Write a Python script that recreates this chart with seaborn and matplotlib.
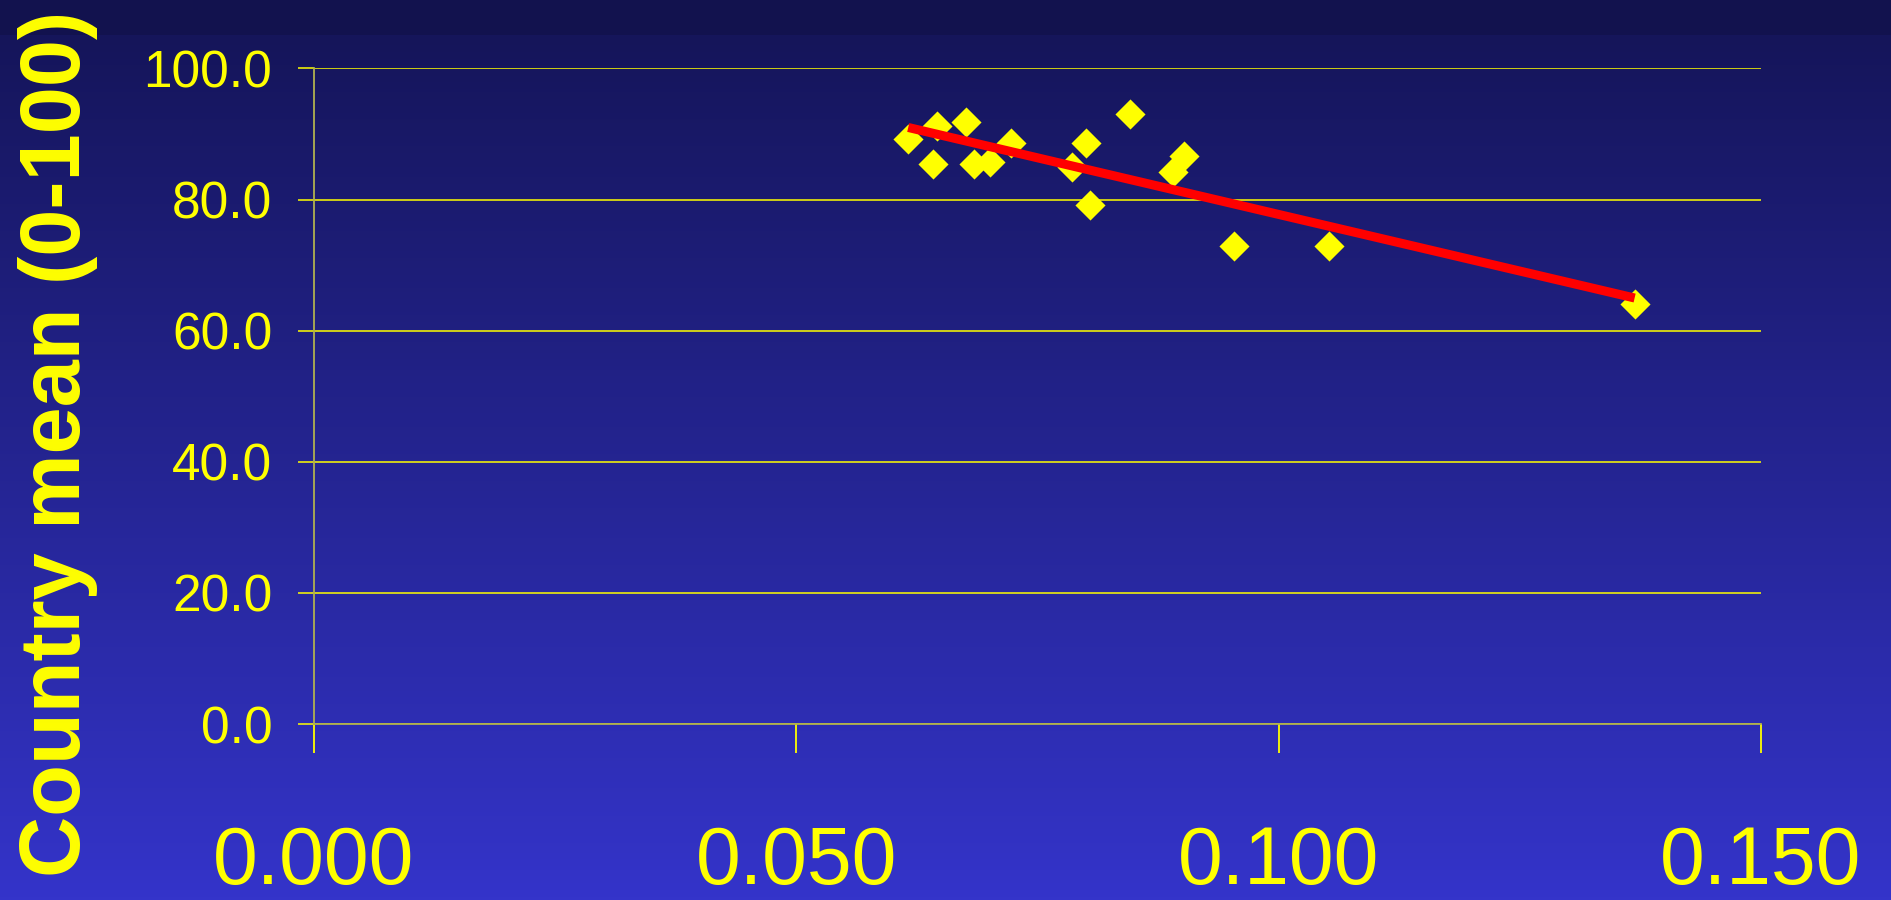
import numpy as np
import pandas as pd
import matplotlib
matplotlib.use("Agg")
import matplotlib.pyplot as plt
from matplotlib.ticker import FormatStrFormatter
from matplotlib.colors import LinearSegmentedColormap
import seaborn as sns

"""Data read off the slide"""
x_vals = [0.0616, 0.0646, 0.0642, 0.0676, 0.0684, 0.0701, 0.0723, 0.0800,
          0.0786, 0.0804, 0.0846, 0.0902, 0.0890, 0.0954, 0.1052, 0.1369]
y_vals = [89.2, 91.2, 85.5, 91.8, 85.5, 85.7, 88.7, 88.7,
          84.9, 79.2, 93.1, 86.7, 84.2, 72.9, 72.9, 64.1]
x_ticks = [0.000, 0.050, 0.100, 0.150]
y_ticks = [0, 20, 40, 60, 80, 100]
y_title = "Country mean (0-100)"

df = pd.DataFrame({"x": x_vals, "y": y_vals})

YEL = "#FFFF00"
plt.rcParams["font.family"] = ["Liberation Sans", "DejaVu Sans"]

fig = plt.figure(figsize=(18.91, 9.0), dpi=100)

"""Slide background: dark navy band on top, then a vertical gradient"""
bg = fig.add_axes([0, 0, 1, 1], zorder=-10)
bg.set_axis_off()
grad = np.linspace(0, 1, 256).reshape(-1, 1)
cmap = LinearSegmentedColormap.from_list("slide", ["#15155A", "#3434CA"])
bg.imshow(grad, aspect="auto", cmap=cmap, extent=[0, 1, 0, 1 - 35 / 900], origin="upper")
bg.axhspan(1 - 35 / 900, 1, color="#12124E", lw=0)
bg.set_xlim(0, 1)
bg.set_ylim(0, 1)

ax = fig.add_axes([314 / 1891, 1 - 724 / 900, (1761 - 314) / 1891, (724 - 68.5) / 900])
ax.patch.set_alpha(0)

sns.regplot(data=df, x="x", y="y", ci=None, ax=ax, marker="D",
            scatter_kws={"s": 235, "color": YEL, "linewidths": 0, "alpha": 1, "zorder": 3},
            line_kws={"color": "#FF0000", "lw": 6.5, "solid_capstyle": "butt", "zorder": 4})

ax.set_xlim(0, 0.15)
ax.set_ylim(0, 100)
ax.set_xticks(x_ticks)
ax.set_yticks(y_ticks)
ax.xaxis.set_major_formatter(FormatStrFormatter("%.3f"))
ax.yaxis.set_major_formatter(FormatStrFormatter("%.1f"))
ax.set_xlabel("")
ax.set_ylabel("")

ax.yaxis.grid(True, color=YEL, lw=1.1)
ax.xaxis.grid(False)
ax.set_axisbelow(True)

for s in ["top", "right"]:
    ax.spines[s].set_visible(False)
for s in ["left", "bottom"]:
    ax.spines[s].set_color("#B0B050")
    ax.spines[s].set_linewidth(1.3)

ax.tick_params(axis="y", direction="out", length=11.5, width=1.1, color=YEL,
               labelcolor=YEL, labelsize=37, pad=18.5)
ax.tick_params(axis="x", direction="out", length=21, width=1.3, color=YEL,
               labelcolor=YEL, labelsize=58, pad=52)

fig.text(58 / 1891, 1 - 444 / 900, y_title, rotation=90, ha="center", va="center",
         color=YEL, fontsize=61, fontweight="bold")

fig.savefig("out.png", dpi=100)
